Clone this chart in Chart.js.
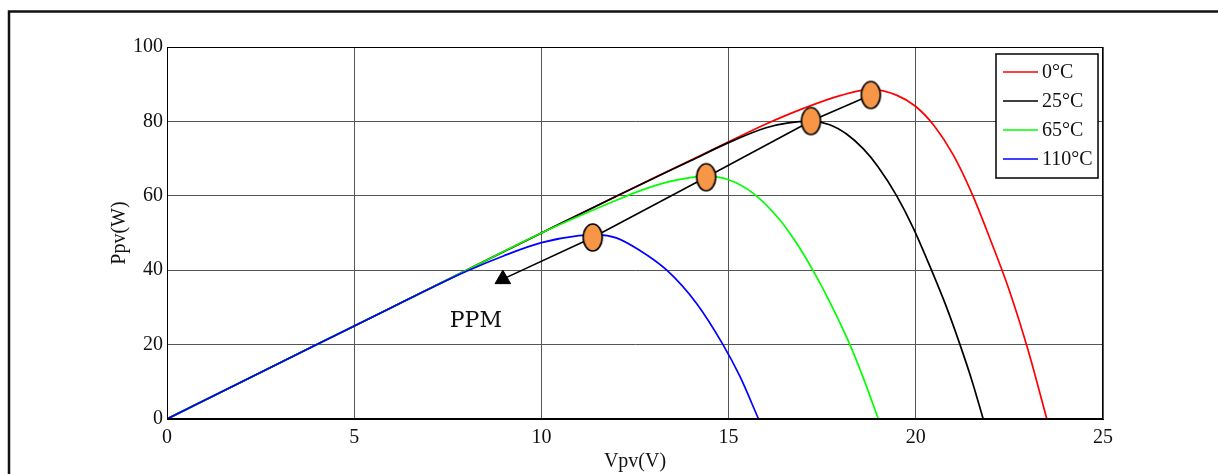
<!DOCTYPE html>
<html>
<head>
<meta charset="utf-8">
<script src="https://cdn.jsdelivr.net/npm/chart.js@4.4.1/dist/chart.umd.min.js"></script>
<style>
  html, body { margin: 0; padding: 0; background: #fff; }
  #wrap { width: 1218px; height: 474px; }
</style>
</head>
<body>
<div id="wrap"><canvas id="pvChart" width="1218" height="474"></canvas></div>
<script>
// P-V curves of the panel at four temperatures
const seriesLabels = ['0°C', '25°C', '65°C', '110°C'];
const seriesColors = ['#ff0000', '#000000', '#00ff00', '#0000ff'];

const vRed = [0, 2, 4, 6, 8, 10, 12, 14, 15, 16, 17, 18, 18.8, 19.5, 20, 20.5, 21, 21.5, 22, 22.5, 23, 23.5];
const pRed = [0, 10, 20, 30, 40, 50, 59.9, 69.6, 74.5, 79.3, 83.5, 87, 88.6, 87, 84, 78.7, 71, 60.6, 48, 34.5, 18.5, 0];

const vBlack = [0, 2, 4, 6, 8, 10, 12, 14, 15, 16, 16.6, 17.2, 17.7, 18.15, 18.6, 19, 19.49, 19.93, 20.42, 20.8, 21.18, 21.5, 21.8];
const pBlack = [0, 10, 20, 30, 40, 50, 59.9, 69.5, 74.3, 78.3, 79.6, 80, 79.1, 76.6, 72.6, 67.7, 60, 51.4, 40, 30.6, 20, 10.3, 0];

const vGreen = [0, 2, 4, 6, 8, 10, 11, 12, 12.7, 13.5, 14.4, 15, 15.65, 16.37, 16.8, 17.25, 17.75, 18.24, 18.6, 19.0];
const pGreen = [0, 10, 20, 30, 40, 50, 54.5, 58.8, 61.6, 64, 65.3, 64.3, 60.7, 53.5, 47.5, 40, 30.5, 20, 11, 0];

const vBlue = [0, 2, 4, 6, 8, 9, 10, 11, 11.5, 12, 12.6, 13.35, 14.15, 14.85, 15.3, 15.8];
const pBlue = [0, 10, 20, 30, 39.7, 43.9, 47.4, 49.3, 49.5, 48.7, 45.5, 40, 31, 20, 11.5, 0];

// maximum power points and the arrow running through them
const mppV = [18.8, 17.2, 14.4, 11.37];
const mppP = [87.1, 80.1, 65, 48.8];
const arrowV = [8.97];
const arrowP = [37.6];
const ppmLabel = 'PPM';
const ppmAt = [8.25, 26.4];

const xTicks = [0, 5, 10, 15, 20, 25];
const yTicks = [0, 20, 40, 60, 80, 100];

const toPoints = (v, p) => v.map((x, i) => ({ x: x, y: p[i] }));

/**
 * Orange ellipse used as the MPP marker
 */
function makeEllipse(w, h) {
  const c = document.createElement('canvas');
  c.width = w + 4;
  c.height = h + 4;
  const g = c.getContext('2d');
  g.beginPath();
  g.ellipse(c.width / 2, c.height / 2, w / 2, h / 2, 0, 0, Math.PI * 2);
  g.fillStyle = '#f79646';
  g.fill();
  g.lineWidth = 1.6;
  g.strokeStyle = '#000';
  g.stroke();
  return c;
}

const SERIF = "'Liberation Serif', 'Times New Roman', serif";

const curves = [vRed, vBlack, vGreen, vBlue].map((v, i) => ({
  label: seriesLabels[i],
  data: toPoints(v, [pRed, pBlack, pGreen, pBlue][i]),
  borderColor: seriesColors[i],
  borderWidth: 1.7,
  pointRadius: 0,
  showLine: true,
  cubicInterpolationMode: 'monotone',
  order: 5 - i
}));

// outer frame, box around the plot, legend and PPM text
const decorations = {
  id: 'decorations',
  beforeDraw(chart) {
    const ctx = chart.ctx;
    ctx.save();
    ctx.fillStyle = '#fff';
    ctx.fillRect(0, 0, chart.width, chart.height);
    ctx.strokeStyle = '#111';
    ctx.lineWidth = 2.5;
    ctx.beginPath();
    ctx.moveTo(9, chart.height + 2);
    ctx.lineTo(9, 11.5);
    ctx.lineTo(chart.width + 2, 11.5);
    ctx.stroke();
    ctx.restore();
  },
  afterDraw(chart) {
    const ctx = chart.ctx;
    const a = chart.chartArea;
    ctx.save();
    ctx.strokeStyle = '#000';
    ctx.lineWidth = 1;
    ctx.strokeRect(a.left + 0.5, a.top + 0.5, a.right - a.left - 1, a.bottom - a.top);
    ctx.lineWidth = 2;
    ctx.beginPath();
    ctx.moveTo(a.left, a.bottom);
    ctx.lineTo(a.right, a.bottom);
    ctx.stroke();

    // legend box
    const bx = a.right - 107, by = a.top + 7, bw = 102, bh = 124;
    ctx.fillStyle = '#fff';
    ctx.fillRect(bx, by, bw, bh);
    ctx.lineWidth = 1.5;
    ctx.strokeStyle = '#000';
    ctx.strokeRect(bx, by, bw, bh);
    ctx.font = '20px ' + SERIF;
    ctx.textBaseline = 'middle';
    ctx.textAlign = 'left';
    seriesLabels.forEach((lab, i) => {
      const y = by + 18 + i * 29;
      ctx.strokeStyle = seriesColors[i];
      ctx.lineWidth = 1.7;
      ctx.beginPath();
      ctx.moveTo(bx + 7, y);
      ctx.lineTo(bx + 42, y);
      ctx.stroke();
      ctx.fillStyle = '#111';
      ctx.fillText(lab, bx + 46, y + 1);
    });

    // PPM label
    const sx = chart.scales.x, sy = chart.scales.y;
    ctx.font = "22px 'DejaVu Serif', serif";
    ctx.textAlign = 'center';
    ctx.fillStyle = '#111';
    ctx.fillText(ppmLabel, sx.getPixelForValue(ppmAt[0]), sy.getPixelForValue(ppmAt[1]));
    ctx.restore();
  }
};

new Chart(document.getElementById('pvChart'), {
  type: 'scatter',
  data: {
    datasets: [
      {
        label: 'MPP',
        data: toPoints(mppV, mppP),
        pointStyle: makeEllipse(19, 27),
        pointRadius: 10,
        showLine: false,
        order: 0
      },
      {
        label: 'arrow',
        data: toPoints(mppV.concat(arrowV), mppP.concat(arrowP)),
        borderColor: '#000',
        borderWidth: 1.6,
        pointRadius: 0,
        showLine: true,
        tension: 0,
        order: 1
      },
      {
        label: 'arrowhead',
        data: toPoints(arrowV, arrowP),
        pointStyle: 'triangle',
        pointRadius: 9,
        backgroundColor: '#000',
        borderColor: '#000',
        borderWidth: 1,
        showLine: false,
        order: 1
      }
    ].concat(curves)
  },
  options: {
    responsive: false,
    animation: false,
    devicePixelRatio: 1,
    layout: { padding: { left: 0, top: 47, right: 115, bottom: 0 } },
    plugins: {
      legend: { display: false },
      tooltip: { enabled: false }
    },
    scales: {
      x: {
        type: 'linear',
        min: 0,
        max: 25,
        afterBuildTicks: s => { s.ticks = xTicks.map(v => ({ value: v })); },
        afterFit: s => { s.height = 55; },
        grid: { color: '#555', lineWidth: 1, drawTicks: false },
        border: { display: true, color: '#000', width: 1 },
        ticks: { color: '#111', padding: 7, font: { family: SERIF, size: 20 } },
        title: {
          display: true,
          text: 'Vpv(V)',
          color: '#111',
          padding: { top: 0, bottom: 0 },
          font: { family: SERIF, size: 20 }
        }
      },
      y: {
        type: 'linear',
        min: 0,
        max: 100,
        afterBuildTicks: s => { s.ticks = yTicks.map(v => ({ value: v })); },
        afterFit: s => { s.width = 167; },
        grid: { color: '#555', lineWidth: 1, drawTicks: false },
        border: { display: true, color: '#000', width: 1 },
        ticks: { color: '#111', padding: 4, font: { family: SERIF, size: 20 } },
        title: {
          display: true,
          text: 'Ppv(W)',
          color: '#111',
          padding: { top: 108, bottom: 0 },
          font: { family: SERIF, size: 20 }
        }
      }
    }
  },
  plugins: [decorations]
});
</script>
</body>
</html>
